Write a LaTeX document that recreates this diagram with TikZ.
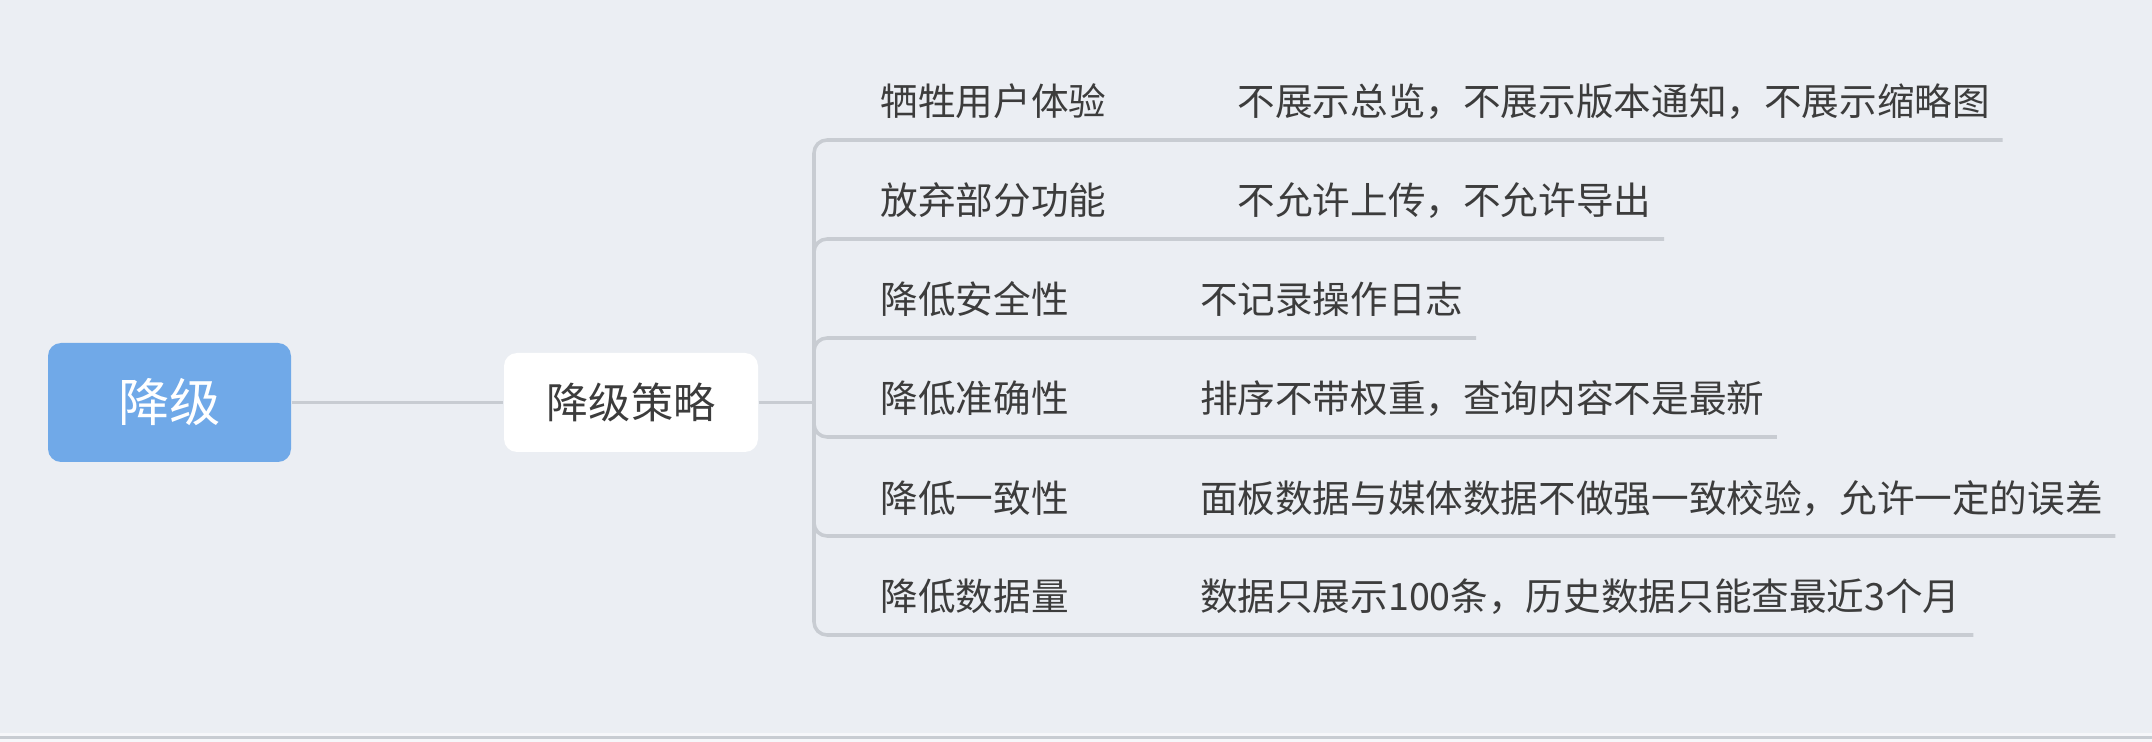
\documentclass[tikz,border=0pt]{standalone}
\usepackage{fontspec}
\setmainfont{Noto Sans CJK SC}
\usetikzlibrary{positioning}
\definecolor{bgcol}{RGB}{235,238,243}
\definecolor{linecol}{RGB}{200,204,210}
\definecolor{rootcol}{RGB}{112,169,232}
\definecolor{txtcol}{RGB}{60,60,60}
\tikzset{
  rootbox/.style={fill=rootcol, rounded corners=0.13cm, minimum width=2.43cm,
    minimum height=1.19cm, text=white, font=\fontsize{14.6}{17}\selectfont},
  planbox/.style={fill=white, rounded corners=0.13cm, minimum width=2.54cm,
    minimum height=0.99cm, text=txtcol, font=\fontsize{12}{14}\selectfont},
  leaf/.style={inner sep=0pt, text=txtcol, font=\fontsize{10.7}{13}\selectfont},
  branch/.style={draw=linecol, line width=1pt, rounded corners=0.13cm},
}
\begin{document}
\begin{tikzpicture}
\fill[bgcol] (0,0) rectangle (21.52,-7.42);
\useasboundingbox (0,0) rectangle (21.52,-7.42);
% strip at the bottom edge
\fill[white!55!bgcol] (0,-7.33) rectangle (21.52,-7.42);
\draw[linecol, line width=0.6pt] (0,-7.375) -- (21.52,-7.375);

\node[rootbox] (root) at (1.695,-4.025) {降级};
\node[planbox] (plan) at (6.31,-4.025) {降级策略};
\coordinate (hub) at (8.14,-4.025);

\node[leaf, anchor=base west] (ux) at (8.80,-1.16) {牺牲用户体验};
\node[leaf, anchor=base west] (func) at (8.80,-2.15) {放弃部分功能};
\node[leaf, anchor=base west] (sec) at (8.80,-3.14) {降低安全性};
\node[leaf, anchor=base west] (acc) at (8.80,-4.13) {降低准确性};
\node[leaf, anchor=base west] (cons) at (8.80,-5.12) {降低一致性};
\node[leaf, anchor=base west] (vol) at (8.80,-6.11) {降低数据量};

\node[leaf, base right=1.3cm of ux] (uxd) {不展示总览，不展示版本通知，不展示缩略图};
\node[leaf, base right=1.3cm of func] (funcd) {不允许上传，不允许导出};
\node[leaf, base right=1.3cm of sec] (secd) {不记录操作日志};
\node[leaf, base right=1.3cm of acc] (accd) {排序不带权重，查询内容不是最新};
\node[leaf, base right=1.3cm of cons] (consd) {面板数据与媒体数据不做强一致校验，允许一定的误差};
\node[leaf, base right=1.3cm of vol] (vold) {数据只展示100条，历史数据只能查最近3个月};

\draw[branch] (root.east) -- (plan.west);
\draw[branch] (plan.east) -- (hub);
\draw[branch] (hub) |- ([shift={(0.12,-0.24)}]uxd.base east);
\draw[branch] (hub) |- ([shift={(0.12,-0.24)}]funcd.base east);
\draw[branch] (hub) |- ([shift={(0.12,-0.24)}]secd.base east);
\draw[branch] (hub) |- ([shift={(0.12,-0.24)}]accd.base east);
\draw[branch] (hub) |- ([shift={(0.12,-0.24)}]consd.base east);
\draw[branch] (hub) |- ([shift={(0.12,-0.24)}]vold.base east);
\end{tikzpicture}
\end{document}
